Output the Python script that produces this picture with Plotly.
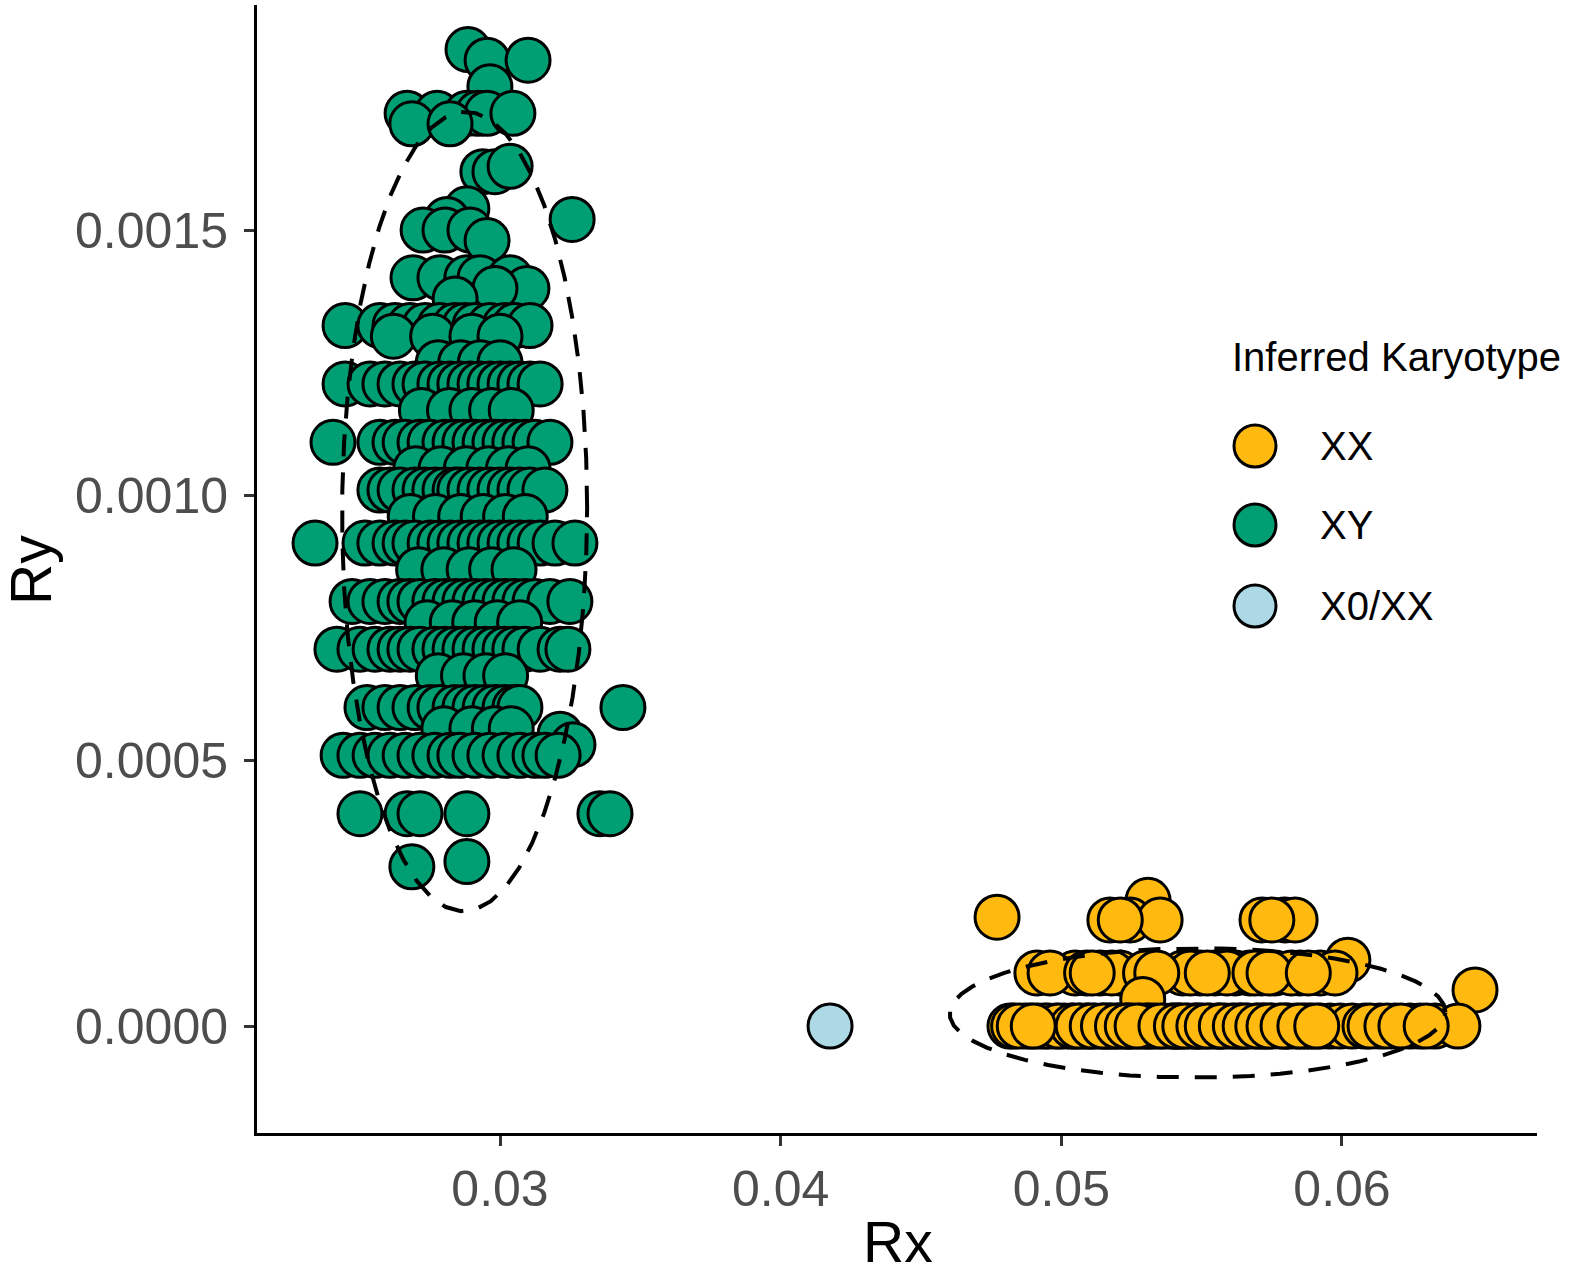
import numpy as np
import plotly.graph_objects as go

# ---------------- data ----------------
karyotypes = ["XX", "XY", "X0/XX"]
colors = {"XX": "#FFB90F", "XY": "#009E73", "X0/XX": "#ADD8E6"}

# XY group: rows of (Ry, [Rx ...])
xy_rows = [
    (0.00184, [0.02886]),
    (0.00182, [0.02954, 0.03100]),
    (0.00177, [0.02964]),
    (0.00172, [0.02669, 0.02776, 0.02882, 0.02922, 0.02954, 0.03046]),
    (0.00170, [0.02686, 0.02822]),
    (0.00161, [0.02939, 0.02982]),
    (0.00162, [0.03036]),
    (0.00154, [0.02882]),
    (0.00152, [0.02811, 0.03257]),
    (0.00150, [0.02726, 0.02804, 0.02893]),
    (0.00148, [0.02954]),
    (0.00141, [0.02690, 0.02786, 0.02882, 0.02929, 0.03036]),
    (0.00139, [0.03096, 0.02982]),
    (0.00137, [0.02840]),
    (0.00132, [0.02448, 0.02572, 0.02626, 0.02679, 0.02733, 0.02786, 0.02840, 0.02875,
               0.02911, 0.02964, 0.03018, 0.03053, 0.03107]),
    (0.00130, [0.02620, 0.02760, 0.02900, 0.03000]),
    (0.00125, [0.02780, 0.02860, 0.02930, 0.03000]),
    (0.00121, [0.02448, 0.02537, 0.02590, 0.02644, 0.02697, 0.02733, 0.02786, 0.02822,
               0.02857, 0.02893, 0.02929, 0.02964, 0.03000, 0.03036, 0.03071, 0.03107, 0.03143]),
    (0.00116, [0.02720, 0.02820, 0.02900, 0.02970, 0.03040]),
    (0.00110, [0.02405, 0.02572, 0.02626, 0.02662, 0.02715, 0.02751, 0.02804, 0.02840,
               0.02875, 0.02911, 0.02947, 0.02982, 0.03018, 0.03053, 0.03089, 0.03125, 0.03178]),
    (0.00105, [0.02700, 0.02790, 0.02880, 0.02960, 0.03030, 0.03100]),
    (0.00101, [0.02572, 0.02608, 0.02644, 0.02697, 0.02733, 0.02768, 0.02804, 0.02840,
               0.02857, 0.02893, 0.02929, 0.02964, 0.03000, 0.03036, 0.03071, 0.03107, 0.03160]),
    (0.00096, [0.02680, 0.02770, 0.02860, 0.02940, 0.03020, 0.03090]),
    (0.00091, [0.02341, 0.02519, 0.02572, 0.02626, 0.02662, 0.02697, 0.02751, 0.02786,
               0.02822, 0.02857, 0.02893, 0.02929, 0.02964, 0.03000, 0.03036, 0.03071,
               0.03107, 0.03143, 0.03196, 0.03267]),
    (0.00086, [0.02710, 0.02800, 0.02890, 0.02970, 0.03050]),
    (0.00080, [0.02473, 0.02537, 0.02590, 0.02644, 0.02679, 0.02715, 0.02768, 0.02804,
               0.02840, 0.02875, 0.02911, 0.02947, 0.02982, 0.03018, 0.03053, 0.03089,
               0.03125, 0.03178, 0.03249]),
    (0.00076, [0.02740, 0.02830, 0.02910, 0.02990, 0.03070]),
    (0.00071, [0.02419, 0.02501, 0.02555, 0.02608, 0.02644, 0.02679, 0.02715, 0.02768,
               0.02804, 0.02840, 0.02875, 0.02911, 0.02947, 0.02982, 0.03018, 0.03053,
               0.03089, 0.03143, 0.03214, 0.03242]),
    (0.00066, [0.02780, 0.02870, 0.02950, 0.03020]),
    (0.00060, [0.02526, 0.02590, 0.02644, 0.02697, 0.02751, 0.02786, 0.02840, 0.02875,
               0.02911, 0.02947, 0.02982, 0.03018, 0.03053, 0.03071, 0.03438]),
    (0.00056, [0.02800, 0.02900, 0.02980, 0.03040]),
    (0.00055, [0.03214]),
    (0.00053, [0.03260]),
    (0.00051, [0.02441, 0.02501, 0.02555, 0.02608, 0.02662, 0.02715, 0.02768, 0.02822,
               0.02857, 0.02911, 0.02964, 0.03018, 0.03071, 0.03125, 0.03160, 0.03207]),
    (0.00040, [0.02501, 0.02669, 0.02715, 0.02882, 0.03356, 0.03392]),
    (0.00030, [0.02686]),
    (0.00031, [0.02882]),
]

# XX group: rows of (Ry, [Rx ...])
xx_rows = [
    (0.000205, [0.04771]),
    (0.000237, [0.05309]),
    (0.000200, [0.05173, 0.05245, 0.05352, 0.05715, 0.05797, 0.05833, 0.05210, 0.05750]),
    (0.000124, [0.06021]),
    (0.000100, [0.04913, 0.05049, 0.05138, 0.05209, 0.05433, 0.05494, 0.05547, 0.05619,
                0.05672, 0.05715, 0.05761, 0.05850, 0.05922, 0.05975,
                0.05180, 0.05300, 0.05460, 0.05590, 0.05690, 0.05820,
                0.04960, 0.05090, 0.05340, 0.05520, 0.05740, 0.05880, 0.05110]),
    (0.000068, [0.06474]),
    (0.000050, [0.05290]),
    (0.000000, [0.04817, 0.04871, 0.04917, 0.04953, 0.04981, 0.05010, 0.05038, 0.05067,
                0.05095, 0.05120, 0.05145, 0.05173, 0.05202, 0.05227, 0.05252, 0.05280,
                0.05309, 0.05337, 0.05366, 0.05394, 0.05423, 0.05451, 0.05476, 0.05501,
                0.05530, 0.05558, 0.05583, 0.05608, 0.05637, 0.05665, 0.05694, 0.05722,
                0.05751, 0.05779, 0.05808, 0.05836, 0.05865, 0.05893, 0.05922, 0.05957,
                0.05993, 0.06036, 0.06082, 0.06135, 0.06189, 0.06242, 0.06278, 0.06331,
                0.06413,
                0.05160, 0.05240, 0.05320, 0.05400, 0.05480, 0.05560, 0.05640, 0.05720,
                0.05800, 0.05880,
                0.04890, 0.04940, 0.04990, 0.05040, 0.05090, 0.05180, 0.05300, 0.05420,
                0.05060, 0.05110, 0.05150, 0.05200, 0.05235, 0.05270, 0.05355, 0.05410,
                0.05440, 0.05490, 0.05520, 0.05570, 0.05620, 0.05655, 0.05700, 0.05740,
                0.05790, 0.05850, 0.05910,
                0.04830, 0.04850, 0.04900, 0.06100, 0.06160, 0.06210, 0.06300]),
]

# X0/XX group
x0_rx = [0.04176]
x0_ry = [0.0]

x_ticks = [0.03, 0.04, 0.05, 0.06]
y_ticks = [0.0, 0.0005, 0.0010, 0.0015]
x_range = [0.021342, 0.066948]
y_range = [-0.0002016, 0.001924]


def flatten(rows):
    xs, ys = [], []
    for y, xlist in rows:
        for x in xlist:
            xs.append(x)
            ys.append(y)
    return np.array(xs), np.array(ys)


def cov_trob(X, nu=5, maxit=25, tol=0.01):
    n, p = X.shape
    loc = X.mean(axis=0)
    w = np.ones(n)
    Xc = X - loc
    for _ in range(maxit):
        w0 = w
        Xc = X - loc
        sw = np.sqrt(w / w.sum())
        _, d, Vt = np.linalg.svd(sw[:, None] * Xc, full_matrices=False)
        wX = Xc @ Vt.T @ np.diag(1.0 / d)
        Q = (wX ** 2).sum(axis=1)
        w = (nu + p) / (nu + Q)
        loc = (w[:, None] * X).sum(axis=0) / w.sum()
        if np.all(np.abs(w - w0) < tol):
            break
    sq = np.sqrt(w)[:, None] * Xc
    cov = sq.T @ sq / n
    return loc, cov


def ellipse_path(xs, ys, level=0.95, segments=51):
    X = np.column_stack([xs, ys])
    n = len(xs)
    center, shape = cov_trob(X)
    dfd = n - 1
    qf = (dfd / 2.0) * ((1 - level) ** (-2.0 / dfd) - 1)  # F quantile, 2 numerator df
    radius = np.sqrt(2 * qf)
    ang = np.arange(segments + 1) * 2 * np.pi / segments
    circ = np.column_stack([np.cos(ang), np.sin(ang)])
    L = np.linalg.cholesky(shape)
    e = center + radius * (circ @ L.T)
    return e[:, 0], e[:, 1]


xy_rx, xy_ry = flatten(xy_rows)
xx_rx, xx_ry = flatten(xx_rows)

fig = go.Figure()

marker_common = dict(size=44, line=dict(color="black", width=3))

fig.add_trace(go.Scatter(x=xx_rx, y=xx_ry, mode="markers", name="XX",
                         marker=dict(color=colors["XX"], **marker_common), showlegend=False))
fig.add_trace(go.Scatter(x=xy_rx, y=xy_ry, mode="markers", name="XY",
                         marker=dict(color=colors["XY"], **marker_common), showlegend=False))
fig.add_trace(go.Scatter(x=x0_rx, y=x0_ry, mode="markers", name="X0/XX",
                         marker=dict(color=colors["X0/XX"], **marker_common), showlegend=False))

for xs, ys in [(xx_rx, xx_ry), (xy_rx, xy_ry)]:
    ex, ey = ellipse_path(xs, ys)
    fig.add_trace(go.Scatter(x=ex, y=ey, mode="lines", showlegend=False, hoverinfo="skip",
                             line=dict(color="black", width=4, dash="22px,16px")))

W, H = 1577, 1278
ml, mr, mt, mb = 257, 40, 5, 145
pw, ph = W - ml - mr, H - mt - mb


def px_x(px):
    return (px - ml) / pw


def px_y(py):
    return (H - mb - py) / ph


FONT = "Liberation Sans, Arial, Helvetica, sans-serif"

shapes = []
annotations = []
# custom legend
annotations.append(dict(text="Inferred Karyotype", xref="paper", yref="paper",
                        x=px_x(1230), y=px_y(357), xanchor="left", yanchor="middle",
                        showarrow=False, font=dict(family=FONT, size=40, color="black")))
leg_y = [446, 525, 606]
for k, yy in zip(karyotypes, leg_y):
    shapes.append(dict(type="circle", xref="paper", yref="paper",
                       xsizemode="pixel", ysizemode="pixel",
                       xanchor=px_x(1255), yanchor=px_y(yy),
                       x0=-21, x1=21, y0=-21, y1=21,
                       fillcolor=colors[k], line=dict(color="black", width=3)))
    annotations.append(dict(text=k, xref="paper", yref="paper",
                            x=px_x(1318), y=px_y(yy), xanchor="left", yanchor="middle",
                            showarrow=False, font=dict(family=FONT, size=40, color="black")))

# axis titles
annotations.append(dict(text="Rx", xref="paper", yref="paper", x=px_x(898), y=px_y(1242),
                        xanchor="center", yanchor="middle", showarrow=False,
                        font=dict(family=FONT, size=57, color="black")))
annotations.append(dict(text="Ry", xref="paper", yref="paper", x=px_x(31), y=px_y(570),
                        xanchor="center", yanchor="middle", showarrow=False, textangle=-90,
                        font=dict(family=FONT, size=57, color="black")))

fig.update_layout(
    width=W, height=H,
    margin=dict(l=ml, r=mr, t=mt, b=mb, pad=0),
    paper_bgcolor="white", plot_bgcolor="white",
    showlegend=False,
    shapes=shapes, annotations=annotations,
    font=dict(family=FONT),
)
fig.update_xaxes(range=x_range, tickvals=x_ticks, tickformat=".2f", automargin=False,
                 showgrid=False, zeroline=False, showline=True, linecolor="black", linewidth=3,
                 ticks="outside", ticklen=10, tickwidth=3, tickcolor="#333333",
                 tickfont=dict(family=FONT, size=50, color="#4D4D4D"))
fig.update_yaxes(range=y_range, tickvals=y_ticks, tickformat=".4f", automargin=False,
                 showgrid=False, zeroline=False, showline=True, linecolor="black", linewidth=3,
                 ticks="outside", ticklen=10, tickwidth=3, tickcolor="#333333",
                 ticklabelstandoff=6,
                 tickfont=dict(family=FONT, size=50, color="#4D4D4D"))

fig.write_html("out.html", config={"displayModeBar": False},
               post_script="document.body.style.margin='0';")
